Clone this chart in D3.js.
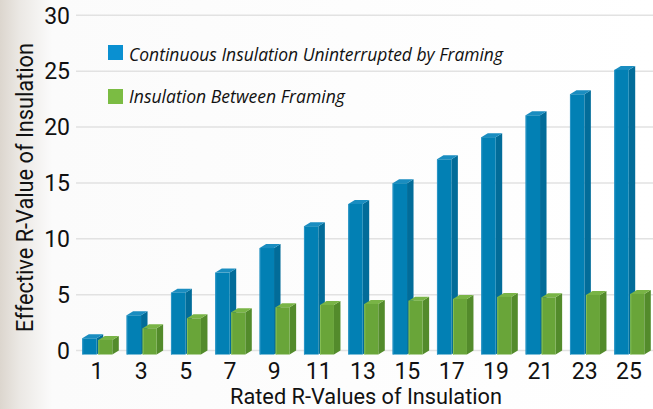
<!DOCTYPE html>
<html>
<head>
<meta charset="utf-8">
<script src="https://cdn.jsdelivr.net/npm/d3@7"></script>
<style>
  html, body { margin: 0; padding: 0; background: #fff; }
  svg { display: block; }
</style>
</head>
<body>
<div id="chart"></div>
<script>
// rated R-values (x categories)
var categories = ['1', '3', '5', '7', '9', '11', '13', '15', '17', '19', '21', '23', '25']
// effective R-values
var continuous = [1.45, 3.51, 5.53, 7.33, 9.53, 11.48, 13.47, 15.33, 17.47, 19.45, 21.41, 23.29, 25.47]
var betweenFraming = [1.30, 2.35, 3.24, 3.78, 4.23, 4.43, 4.52, 4.82, 4.97, 5.15, 5.12, 5.33, 5.42]
var yTicks = [0, 5, 10, 15, 20, 25, 30]
var seriesNames = ['Continuous Insulation Uninterrupted by Framing', 'Insulation Between Framing']

var width = 653, height = 409
var depthX = 6.5, depthY = 4

var svg = d3.select('#chart').append('svg')
  .attr('width', width)
  .attr('height', height)

// faint backdrop on the left edge
var defs = svg.append('defs')
var grad = defs.append('linearGradient').attr('id', 'bg').attr('x1', 0).attr('x2', 1).attr('y1', 0).attr('y2', 0)
grad.append('stop').attr('offset', '0').attr('stop-color', '#dcd6ce')
grad.append('stop').attr('offset', '0.03').attr('stop-color', '#ebe8e4')
grad.append('stop').attr('offset', '0.08').attr('stop-color', '#fbfbfb')
grad.append('stop').attr('offset', '1').attr('stop-color', '#ffffff')
svg.append('rect').attr('width', width).attr('height', height).attr('fill', 'url(#bg)')

var x = d3.scalePoint().domain(categories).range([97, 629])
var y = d3.scaleLinear().domain([0, 30]).range([350.5, 15.3])

// gridlines
svg.append('g')
  .selectAll('line')
  .data(yTicks)
  .enter()
  .append('line')
  .attr('x1', 76)
  .attr('x2', width)
  .attr('y1', d => y(d))
  .attr('y2', d => y(d))
  .attr('stroke', '#e2e2e2')
  .attr('stroke-width', 1.5)

// y tick labels
svg.append('g')
  .selectAll('text')
  .data(yTicks)
  .enter()
  .append('text')
  .attr('x', 70)
  .attr('y', d => y(d))
  .attr('dy', '0.36em')
  .attr('text-anchor', 'end')
  .attr('font-family', 'Roboto, sans-serif')
  .attr('font-size', 23)
  .attr('fill', '#111')
  .text(d => d)

// x tick labels
svg.append('g')
  .selectAll('text')
  .data(categories)
  .enter()
  .append('text')
  .attr('x', d => x(d))
  .attr('y', 379)
  .attr('text-anchor', 'middle')
  .attr('font-family', 'Roboto, sans-serif')
  .attr('font-size', 23)
  .attr('fill', '#111')
  .text(d => d)

// 3D-ish bar
function drawBar(g, xl, w, v, colors) {
  var top = y(v) + depthY
  var bottom = y(0) + depthY
  var xr = xl + w
  g.append('polygon')
    .attr('points', [[xr, top], [xr + depthX, top - depthY], [xr + depthX, bottom - depthY], [xr, bottom]].join(' '))
    .attr('fill', colors.side)
  g.append('polygon')
    .attr('points', [[xl, top], [xl + depthX, top - depthY], [xr + depthX, top - depthY], [xr, top]].join(' '))
    .attr('fill', colors.top)
  g.append('rect')
    .attr('x', xl).attr('y', top)
    .attr('width', w).attr('height', bottom - top)
    .attr('fill', colors.front)
  g.append('line')
    .attr('x1', xl + 0.5).attr('x2', xl + 0.5)
    .attr('y1', top).attr('y2', bottom)
    .attr('stroke', colors.edge).attr('stroke-width', 1)
}

var blue = { front: '#0280b4', side: '#026c99', top: '#1a8dc0', edge: '#2a95c6' }
var green = { front: '#69a539', side: '#538b2b', top: '#79b446', edge: '#86bf55' }

var bars = svg.append('g')
categories.forEach(function(c, i) {
  var cx = x(c)
  var g = bars.append('g')
  drawBar(g, cx - 14.7, 14.4, continuous[i], blue)
  drawBar(g, cx + 1.3, 14, betweenFraming[i], green)
})

// legend
var legend = svg.append('g')
var legendRows = [
  { name: seriesNames[0], color: '#0a90d1', y: 45, base: 60.5, len: 374 },
  { name: seriesNames[1], color: '#7bbc43', y: 89, base: 103, len: 216 },
]
legendRows.forEach(function(r) {
  legend.append('rect')
    .attr('x', 108).attr('y', r.y)
    .attr('width', 15).attr('height', 15)
    .attr('fill', r.color)
  legend.append('text')
    .attr('x', 129).attr('y', r.base)
    .attr('font-family', 'Open Sans, sans-serif')
    .attr('font-style', 'italic')
    .attr('font-size', 18)
    .attr('fill', '#111')
    .attr('textLength', r.len)
    .attr('lengthAdjust', 'spacingAndGlyphs')
    .text(r.name)
})

// axis titles
svg.append('text')
  .attr('x', 230).attr('y', 404)
  .attr('font-family', 'Roboto, sans-serif')
  .attr('font-size', 22)
  .attr('fill', '#111')
  .attr('textLength', 272)
  .attr('lengthAdjust', 'spacingAndGlyphs')
  .text('Rated R-Values of Insulation')

svg.append('text')
  .attr('transform', 'translate(33,332) rotate(-90)')
  .attr('font-family', 'Roboto, sans-serif')
  .attr('font-size', 23)
  .attr('fill', '#111')
  .attr('textLength', 289)
  .attr('lengthAdjust', 'spacingAndGlyphs')
  .text('Effective R-Value of Insulation')
</script>
</body>
</html>
